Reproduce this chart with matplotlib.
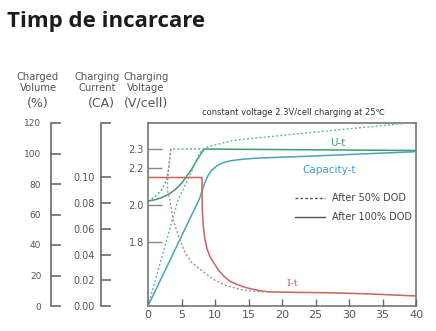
import matplotlib
matplotlib.use('Agg')
import matplotlib.pyplot as plt
from matplotlib.lines import Line2D

W, H = 436, 331

# U-t, voltage (V/cell)
ut100_t = [0, 1, 2, 3, 4, 5, 6, 6.5, 7, 7.5, 8, 8.4, 40]
ut100_v = [2.02, 2.027, 2.038, 2.055, 2.08, 2.115, 2.165, 2.19, 2.222, 2.252, 2.28, 2.30, 2.292]
ut50_t = [0, 1, 2, 2.5, 2.8, 3.05, 3.25, 3.4, 8.3]
ut50_v = [2.02, 2.042, 2.08, 2.11, 2.14, 2.19, 2.25, 2.30, 2.30]

# Capacity-t, charged volume (%)
cap100_t = [0, 7.65, 8.0, 8.4, 8.9, 9.4, 10.3, 11.2, 12.3, 13.8, 16, 18.8, 23.9, 31.9, 40]
cap100_v = [0, 70, 74.5, 80, 85, 88.5, 92, 94, 95.2, 96.1, 96.9, 97.4, 98.2, 99.7, 101.2]
cap50_t = [0, 4.5, 5.5, 6.3, 7.07, 7.6, 8.07, 9, 10.3, 12, 13.8, 18.3, 23.9, 31.9, 39]
cap50_v = [0, 69.8, 79, 86.2, 94, 99, 102.6, 104.5, 105.9, 107.8, 109.2, 111.1, 113.6, 117, 120]

# I-t, charging current (CA)
it100_t = [0, 8.05, 8.1, 8.25, 8.5, 8.83, 9.3, 9.82, 10.5, 11.32, 12.3, 13.34, 14.5, 15.83, 17.85, 22, 27.4, 33, 40]
it100_i = [0.10, 0.10, 0.075, 0.062, 0.052, 0.044, 0.038, 0.0336, 0.028, 0.0232, 0.019, 0.0167, 0.0145, 0.0128,
           0.011, 0.0106, 0.0103, 0.0094, 0.0078]
it50_t = [3.4, 3.1, 2.9, 2.95, 3.25, 3.75, 4.55, 5.55, 6.5, 7.8, 9.8, 11.6, 13.8, 15.3, 17.5]
it50_i = [0.122, 0.108, 0.095, 0.088, 0.083, 0.0673, 0.0543, 0.0414, 0.034, 0.0284, 0.0206, 0.016, 0.0128, 0.0117, 0.0108]

x_ticks = [0, 5, 10, 15, 20, 25, 30, 35, 40]
v_ticks = [1.8, 2.0, 2.2, 2.3]
vol_ticks = [0, 20, 40, 60, 80, 100, 120]
cur_ticks = [0.0, 0.02, 0.04, 0.06, 0.08, 0.10]

GREEN = '#3f9a6e'
TEAL = '#45a5bb'
RED = '#c8645c'
GREY = '#6a6a6a'

plt.rcParams['font.family'] = ['DejaVu Sans']


def fx(px):
    return px / W


def fy(py):
    return 1 - py / H


fig = plt.figure(figsize=(W / 100, H / 100), dpi=100)
bot, top = fy(306), fy(123)

ax = fig.add_axes([fx(148), bot, fx(416) - fx(148), top - bot])
ax.set_xlim(0, 40)
ax.set_ylim(1.456, 2.44)
for s in ax.spines.values():
    s.set_color(GREY)
    s.set_linewidth(1.1)
ax.set_xticks(x_ticks)
ax.set_yticks(v_ticks)
ax.set_yticklabels(['1.8', '2.0', '2.2', '2.3'])
ax.tick_params(axis='x', direction='in', length=5, width=1, color=GREY, labelsize=8, labelcolor='#555', pad=3)
ax.tick_params(axis='y', direction='in', length=10, width=1, color='#888', labelsize=7, labelcolor='#555', pad=3)

ax.plot(ut100_t, ut100_v, color=GREEN, lw=1.1)
ax.plot(ut50_t, ut50_v, color='#5aa882', lw=1.0, ls=(0, (1.5, 1.5)))
ax.text(28.4, 2.305, 'U-t', color=GREEN, fontsize=7.5, ha='center', va='bottom')

axv = ax.twinx()
axv.set_ylim(0, 120)
axv.set_axis_off()
axv.plot(cap100_t, cap100_v, color=TEAL, lw=1.1)
axv.plot(cap50_t, cap50_v, color='#6ab2c2', lw=1.0, ls=(0, (1.5, 1.5)))
axv.text(27.1, 89.2, 'Capacity-t', color='#3a9fcf', fontsize=7.5, ha='center', va='center')

axi = ax.twinx()
axi.set_ylim(0, 0.1424)
axi.set_axis_off()
axi.plot(it100_t, it100_i, color=RED, lw=1.1)
axi.plot(it50_t, it50_i, color='#b48a90', lw=1.0, ls=(0, (1.5, 1.5)))
axi.text(21.6, 0.0142, 'I-t', color=RED, fontsize=7.5, ha='center', va='bottom', family='DejaVu Serif')

handles = [Line2D([], [], color='#555', lw=1.0, ls=(0, (2, 1.5))),
           Line2D([], [], color='#555', lw=1.0)]
ax.legend(handles, ['After 50% DOD', 'After 100% DOD'], loc='upper left', bbox_to_anchor=(0.549, 0.615),
          frameon=False, fontsize=7, handlelength=3.1, handletextpad=0.7, labelspacing=0.9, borderpad=0,
          borderaxespad=0, labelcolor='#444')

# left scales
def side_scale(px, ylim, ticks, labels, size, pad):
    a = fig.add_axes([fx(px), bot, 0.0001, top - bot])
    a.patch.set_visible(False)
    for k in ('top', 'right', 'bottom'):
        a.spines[k].set_visible(False)
    a.spines['left'].set_color(GREY)
    a.spines['left'].set_linewidth(1.2)
    a.set_ylim(*ylim)
    a.set_xticks([])
    a.set_yticks(ticks)
    a.set_yticklabels(labels)
    a.tick_params(axis='y', direction='in', length=7, width=1.2, color=GREY, labelsize=size,
                  labelcolor='#555', pad=pad)
    return a


side_scale(51, (0, 120), vol_ticks, [str(v) for v in vol_ticks], 6.5, 7)
side_scale(101, (0, 0.1424), cur_ticks + [0.1424], ['%.2f' % c for c in cur_ticks] + [''], 7, 4.5)

# headers
hdr = dict(ha='center', va='center', color='#555')
fig.text(fx(38), fy(77), 'Charged', fontsize=7.2, **hdr)
fig.text(fx(38), fy(88), 'Volume', fontsize=7.2, **hdr)
fig.text(fx(38), fy(103.5), '(%)', fontsize=9, **hdr)
fig.text(fx(97), fy(77), 'Charging', fontsize=7.2, **hdr)
fig.text(fx(97), fy(88), 'Current', fontsize=7.2, **hdr)
fig.text(fx(101), fy(103.5), '(CA)', fontsize=9, **hdr)
fig.text(fx(146), fy(77), 'Charging', fontsize=7.2, **hdr)
fig.text(fx(146), fy(88), 'Voltage', fontsize=7.2, **hdr)
fig.text(fx(146), fy(103.5), '(V/cell)', fontsize=9, **hdr)

fig.text(fx(293), fy(113), 'constant voltage 2.3V/cell charging at 25\u2103', fontsize=6,
         ha='center', va='center', color='#333')

fig.text(fx(7), fy(27), 'Timp de incarcare', fontsize=16, fontweight='bold', family='Open Sans',
         color='#1c1c1c', ha='left', va='baseline')

fig.savefig('out.png', dpi=100)
